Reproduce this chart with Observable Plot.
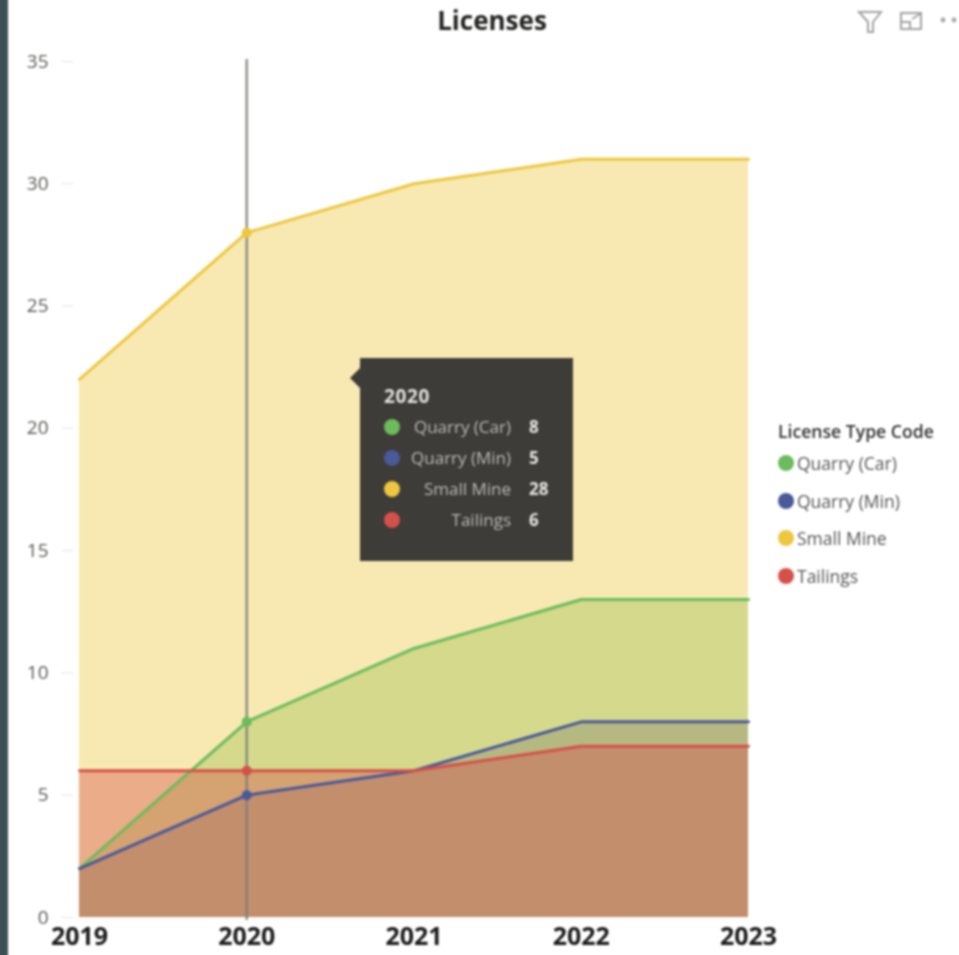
<!DOCTYPE html>
<html><head><meta charset="utf-8">
<script src="https://cdn.jsdelivr.net/npm/d3@7"></script>
<script src="https://cdn.jsdelivr.net/npm/@observablehq/plot@0.6"></script>
<style>
html,body{margin:0;padding:0;background:#fff;overflow:hidden}
#page{position:relative;width:959px;height:955px;font-family:"Open Sans",sans-serif;filter:blur(.8px)}
#bg{position:absolute;left:8px;top:-8px;width:970px;height:980px;background:#fff}
#strip{position:absolute;left:-8px;top:-8px;width:16px;height:980px;background:#3b5055}
#title{position:absolute;left:392px;width:200px;top:2px;text-align:center;font-weight:700;font-size:26px;line-height:36px;color:#252423}
#chart{position:absolute;left:0;top:0}
#icons{position:absolute;left:850px;top:5px}
.abs{position:absolute;white-space:nowrap}
.dot{position:absolute;width:16px;height:16px;border-radius:50%}
#tip{position:absolute;left:360px;top:358px;width:213px;height:203px;background:#3e3c38}
#tip:before{content:"";position:absolute;left:-10px;top:10px;border:10px solid transparent;border-left:0;border-right-color:#3e3c38}
#tip .lab{position:absolute;right:62px;color:#b9b8b4;font-size:17px;line-height:22px;white-space:nowrap}
#tip .val{position:absolute;left:169px;color:#e6e5e2;font-size:17px;font-weight:700;line-height:22px}
#tip .head{position:absolute;left:24px;top:26px;color:#e0dfdb;font-size:19px;letter-spacing:.6px;font-weight:700;line-height:24px}
</style></head><body><div id="page">
<div id="bg"></div>
<div id="chart"></div>
<div id="strip"></div>
<div id="title">Licenses</div>
<svg id="icons" width="109" height="32" fill="none" stroke="#a3a3a3" stroke-width="2">
<path d="M9 7H31L23 17V27H18V17Z"/>
<path d="M51 8H71V24H51ZM51 17H60V24M62 14L70 9"/>
<circle cx="93" cy="15" r="1.4"/><circle cx="104" cy="15" r="1.4"/>
</svg>
<div id="legend"></div>
<div id="tip"></div>
</div>
<script>
const years = [2019, 2020, 2021, 2022, 2023];
const names = ["Quarry (Car)", "Quarry (Min)", "Small Mine", "Tailings"];
const quarryCar = [2, 8, 11, 13, 13];
const quarryMin = [2, 5, 6, 8, 8];
const smallMine = [22, 28, 30, 31, 31];
const tailings = [6, 6, 6, 7, 7];
const colors = ["#6cbb5c", "#49599a", "#edc73f", "#d6504a"];
const yTicks = [0, 5, 10, 15, 20, 25, 30, 35];
const hoverYear = 2020;
const seriesValues = [quarryCar, quarryMin, smallMine, tailings];
const rows = names.flatMap((name, i) => years.map((year, j) => ({name, year, value: seriesValues[i][j]})));
const color = {domain: names, range: colors};
const plot = Plot.plot({
  width: 959, height: 955,
  marginLeft: 79, marginRight: 211, marginTop: 61, marginBottom: 38,
  style: {background: "transparent", fontFamily: '"Open Sans",sans-serif'},
  x: {domain: [2019, 2023], label: null},
  y: {domain: [0, 35], label: null},
  color,
  marks: [
    ...names.map(n => Plot.areaY(rows.filter(r => r.name === n), {x: "year", y1: 0, y2: "value", fill: "name", fillOpacity: 0.4})),
    Plot.ruleX([hoverYear], {y1: 35, y2: 0, stroke: "#7d7d7a", strokeOpacity: 0.85, strokeWidth: 2.5, insetTop: -2, insetBottom: -3}),
    ...names.map(n => Plot.lineY(rows.filter(r => r.name === n), {x: "year", y: "value", stroke: "name", strokeWidth: 3})),
    Plot.dot(rows.filter(r => r.year === hoverYear), {x: "year", y: "value", fill: "name", r: 5}),
    Plot.axisY({ticks: yTicks, tickSize: 11, dx: -6, tickPadding: 14, stroke: "#e2e2e2", fill: "#5a5856", fontSize: 19, label: null, tickFormat: "d"}),
    Plot.axisX({ticks: years, tickSize: 0, tickPadding: 10, fill: "#1c1c1c", fontSize: 25, fontWeight: 700, label: null, tickFormat: "d"})
  ]
});
document.getElementById("chart").append(plot);

const legend = document.getElementById("legend");
const legendY = [463, 501, 538, 576];
legend.innerHTML = `<div class="abs" style="left:778px;top:420px;font-size:17.6px;line-height:22px;font-weight:600;color:#333">License Type Code</div>` +
  names.map((n, i) => `<div class="dot" style="left:778px;top:${legendY[i] - 8}px;background:${colors[i]}"></div><div class="abs" style="left:797px;top:${legendY[i] - 11}px;font-size:17.5px;line-height:22px;color:#555">${n}</div>`).join("");

const tip = document.getElementById("tip");
const tipIdx = years.indexOf(hoverYear);
const tipY = [69, 100, 131, 162];
tip.innerHTML = `<div class="head">${hoverYear}</div>` +
  names.map((n, i) => `<div class="dot" style="left:24px;top:${tipY[i] - 8}px;background:${colors[i]}"></div><div class="lab" style="top:${tipY[i] - 11}px">${n}</div><div class="val" style="top:${tipY[i] - 11}px">${seriesValues[i][tipIdx]}</div>`).join("");
</script></body></html>
